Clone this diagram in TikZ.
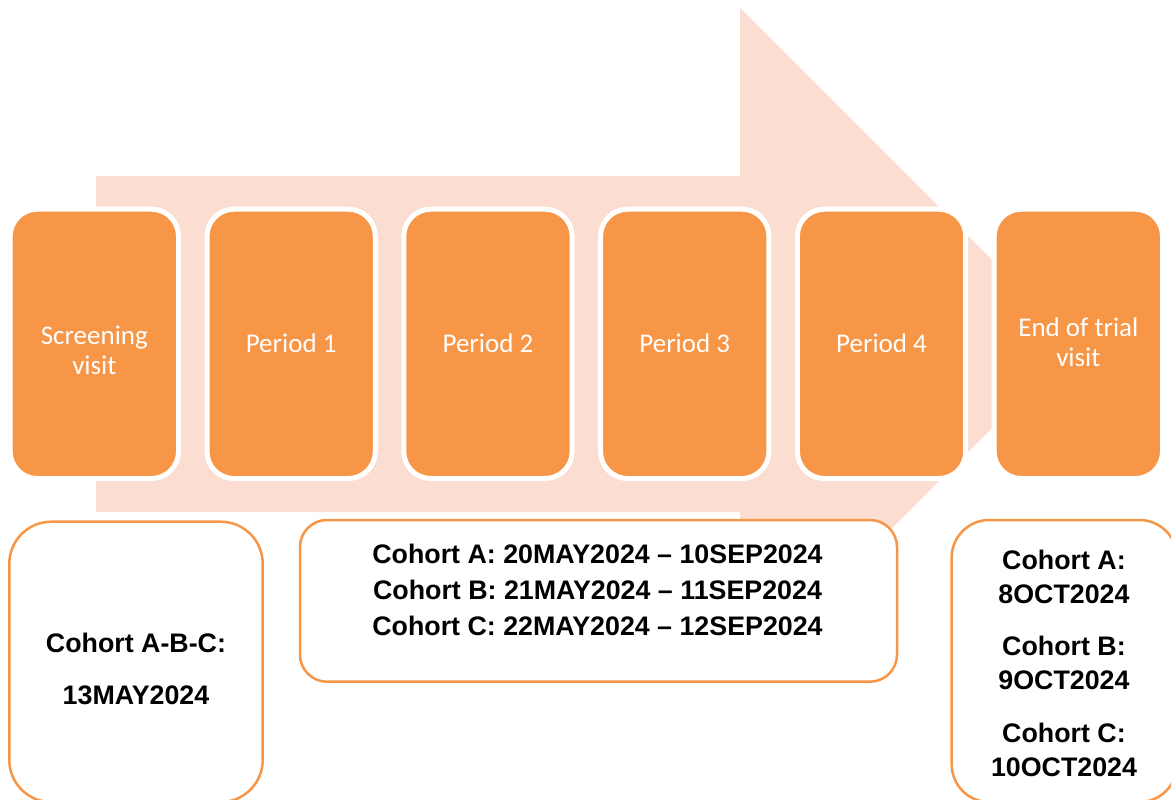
\documentclass[tikz,border=0pt]{standalone}
\usepackage{fontspec}
\setmainfont{Liberation Sans}
\newfontfamily\calib{Carlito}
\definecolor{orangeF}{HTML}{F79646}
\definecolor{pinkF}{HTML}{FCDDD1}
\begin{document}
\begin{tikzpicture}[x=1pt,y=-1pt,
  stagebox/.style={draw=white, line width=5pt, fill=orangeF, rounded corners=27pt,
    minimum width=168.3pt, minimum height=269.3pt, inner sep=0pt},
  stagetext/.style={text=white, inner sep=0pt, anchor=base, align=center,
    font=\calib\fontsize{27}{30}\selectfont},
  datebox/.style={draw=orangeF, line width=2.5pt, fill=white, inner sep=0pt},
  datetext/.style={text=black, inner sep=0pt, anchor=base, align=center}]
\useasboundingbox (0,0) rectangle (1171,800);
\clip (0,0) rectangle (1171,800);
% big background arrow
\fill[pinkF] (96,176) -- (740,176) -- (740,8) -- (1076,344) -- (740,680)
  -- (740,512) -- (96,512) -- cycle;
% stage boxes
\node[stagebox] (s0) at (94.35,343.85) {};
\node[stagebox] (s1) at (291.15,343.85) {};
\node[stagebox] (s2) at (487.95,343.85) {};
\node[stagebox] (s3) at (684.75,343.85) {};
\node[stagebox] (s4) at (881.55,343.85) {};
\node[stagebox] (s5) at (1078.35,343.85) {};
\node[stagetext] (t0) at (94.35,374) {Screening\\visit};
\node[stagetext] (t1) at (291.15,352) {Period 1};
\node[stagetext] (t2) at (487.95,352) {Period 2};
\node[stagetext] (t3) at (684.75,352) {Period 3};
\node[stagetext] (t4) at (881.55,352) {Period 4};
\node[stagetext] (t5) at (1078.35,366) {End of trial\\visit};
% date boxes
\node[datebox, rounded corners=42pt, minimum width=253.4pt, minimum height=280.3pt] (d0) at (136,661.85) {};
\node[datebox, rounded corners=27pt, minimum width=597pt, minimum height=161.7pt] (d1) at (598.5,600.85) {};
\node[datebox, rounded corners=37.5pt, minimum width=225.3pt, minimum height=282pt] (d2) at (1064.35,661) {};
\node[datetext, font=\bfseries\fontsize{26.8}{51.3}\selectfont] (e0) at (136,704)
  {Cohort A-B-C:\\13MAY2024};
\node[datetext, font=\bfseries\fontsize{26.8}{35.8}\selectfont] (e1) at (597.5,635)
  {Cohort A: 20MAY2024 – 10SEP2024\\Cohort B: 21MAY2024 – 11SEP2024\\Cohort C: 22MAY2024 – 12SEP2024};
\node[datetext, font=\bfseries\fontsize{26.8}{33.6}\selectfont] (e2) at (1064,776)
  {Cohort A:\\8OCT2024\\[19.3pt]Cohort B:\\9OCT2024\\[19.3pt]Cohort C:\\10OCT2024};
\end{tikzpicture}
\end{document}
